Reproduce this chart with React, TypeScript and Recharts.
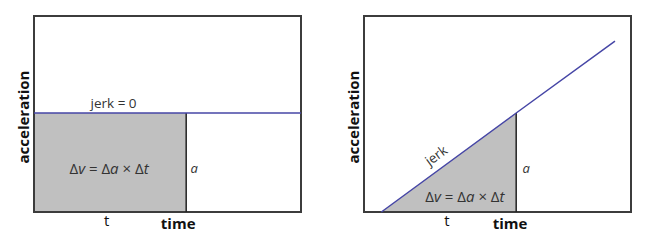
import React from 'react';
import { ComposedChart, Line, Area, XAxis, YAxis, ReferenceArea, ReferenceLine, ReferenceDot } from 'recharts';

// left panel: constant acceleration (jerk = 0)
const leftTime = [0, 5.7, 10];
const leftAccel = [5.05, 5.05, 5.05];
const leftShade = [5.05, 5.05, null];
const leftTicks = [2.72, 5.4];

// right panel: constant jerk, acceleration rising linearly
const rightTime = [0.65, 5.7, 9.4];
const rightAccel = [0, 5.05, 8.72];
const rightShade = [0, 5.05, null];
const rightTicks = [3.11, 5.47];

const tickLabels = ['t', 'time'];
const FONT = '"Open Sans", sans-serif';
const LINE = '#4646a6';
const SHADE = '#c0c0c0';
const BORDER = '#3c3c3c';

const leftData = leftTime.map((t, i) => ({ t, a: leftAccel[i], s: leftShade[i] }));
const rightData = rightTime.map((t, i) => ({ t, a: rightAccel[i], s: rightShade[i] }));

const TimeTick = (props: any) => {
    const { x, y, index } = props;
    const isTitle = index === 1;
    return (
        <text x={x} y={y + (isTitle ? 15 : 12)} textAnchor="middle" fontFamily={FONT}
            fontSize={15} fontWeight={isTitle ? 700 : 400} fill="#111">
            {tickLabels[index]}
        </text>
    );
};

const AccelTitle = (props: any) => {
    const vb = props.viewBox || {};
    const cx = vb.x + 23;
    const cy = 117;
    return (
        <text x={cx} y={cy} transform={`rotate(-90 ${cx} ${cy})`} textAnchor="middle" dominantBaseline="central"
            fontFamily={FONT} fontSize={15} fontWeight={700} fill="#111">acceleration</text>
    );
};

const Note = (props: any) => {
    const { viewBox, text, italic, size = 13, rot = 0 } = props;
    const cx = viewBox.x + (viewBox.width || 0) / 2;
    const cy = viewBox.y + (viewBox.height || 0) / 2;
    return (
        <text x={cx} y={cy} textAnchor="middle" dominantBaseline="central" fontFamily={FONT}
            fontSize={size} fontStyle={italic ? 'italic' : 'normal'} fill="#333"
            transform={rot ? `rotate(${rot} ${cx} ${cy})` : undefined}>{text}</text>
    );
};

const Formula = (props: any) => {
    const { viewBox } = props;
    const cx = viewBox.x + (viewBox.width || 0) / 2;
    const cy = viewBox.y + (viewBox.height || 0) / 2;
    return (
        <text x={cx} y={cy} textAnchor="middle" dominantBaseline="central" fontFamily={FONT} fontSize={15} fill="#333">
            <tspan>Δ</tspan><tspan fontStyle="italic">v</tspan><tspan> = Δ</tspan><tspan fontStyle="italic">a</tspan>
            <tspan> × Δ</tspan><tspan fontStyle="italic">t</tspan>
        </text>
    );
};

function Panel({ data, ticks, end, top, formula, aPos, jerkPos, flat }: any) {
    return (
        <ComposedChart width={332} height={244} data={data} margin={{ top: 16, right: 31, bottom: 0, left: 0 }}>
            <XAxis dataKey="t" type="number" domain={[0, 10]} ticks={ticks} interval={0} tick={<TimeTick />}
                tickLine={false} axisLine={false} tickSize={0} tickMargin={2} height={32} />
            <YAxis type="number" domain={[0, 10]} width={34} tick={false} tickLine={false} axisLine={false}
                label={<AccelTitle />} />
            <Area dataKey="s" type="linear" fill={SHADE} fillOpacity={1} stroke="none" isAnimationActive={false} />
            <ReferenceLine segment={[{ x: end, y: 0 }, { x: end, y: top }]} stroke="#222" strokeWidth={1.5} />
            <Line dataKey="a" type="linear" stroke={LINE} strokeWidth={1.5} dot={false} isAnimationActive={false} />
            <ReferenceArea x1={0} x2={10} y1={0} y2={10} fill="none" stroke={BORDER} strokeWidth={2} fillOpacity={0} />
            <ReferenceDot x={formula[0]} y={formula[1]} r={0} fill="none" stroke="none" label={<Formula />} />
            <ReferenceDot x={aPos[0]} y={aPos[1]} r={0} fill="none" stroke="none" label={<Note text="a" italic size={13} />} />
            {flat ? (
                <ReferenceDot x={jerkPos[0]} y={jerkPos[1]} r={0} fill="none" stroke="none" label={<Note text="jerk = 0" size={13.5} />} />
            ) : (
                <ReferenceDot x={jerkPos[0]} y={jerkPos[1]} r={0} fill="none" stroke="none" label={<Note text="jerk" size={13.5} rot={-36} />} />
            )}
        </ComposedChart>
    );
}

export default function App() {
    return (
        <div style={{ position: 'absolute', left: 0, top: 0, width: 663, height: 244, background: '#fff' }}>
            <div style={{ position: 'absolute', left: 0, top: 0 }}>
                <Panel data={leftData} ticks={leftTicks} end={5.7} top={5.05} flat
                    formula={[2.81, 2.24]} aPos={[6.0, 2.24]} jerkPos={[2.98, 5.55]} />
            </div>
            <div style={{ position: 'absolute', left: 330, top: 0 }}>
                <Panel data={rightData} ticks={rightTicks} end={5.7} top={5.05}
                    formula={[3.78, 0.82]} aPos={[6.07, 2.24]} jerkPos={[2.7, 2.9]} />
            </div>
        </div>
    );
}
